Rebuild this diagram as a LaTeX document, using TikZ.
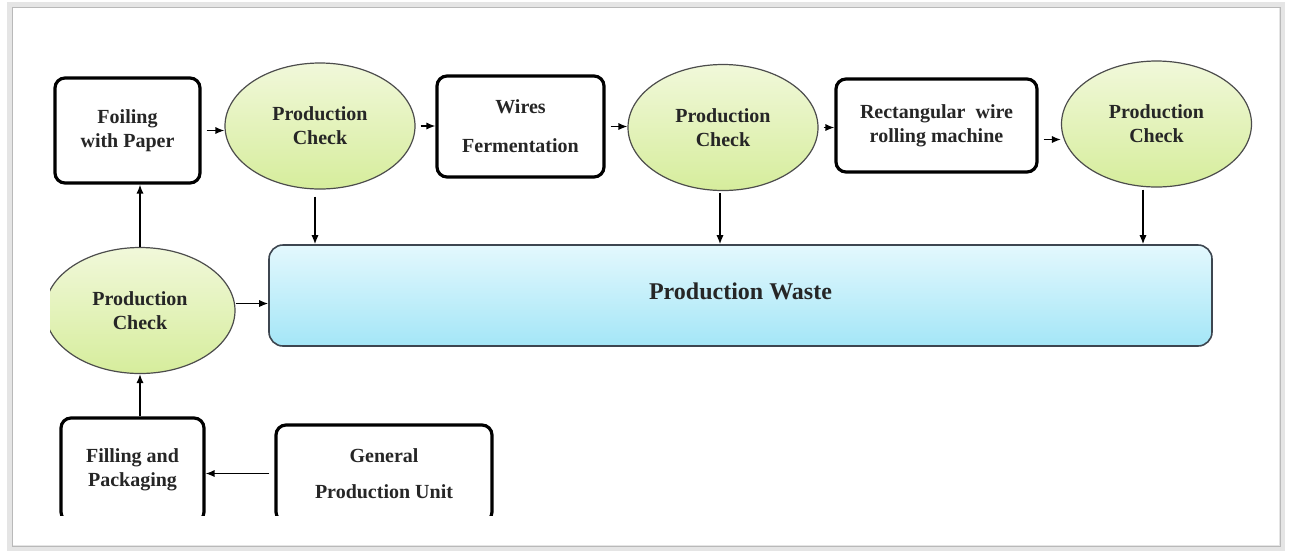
\documentclass[tikz,border=0pt]{standalone}
\usepackage{fontspec}
\setmainfont{Liberation Serif}
\usetikzlibrary{shapes.geometric,arrows.meta}
\definecolor{checktop}{HTML}{F1F8DA}
\definecolor{checkbot}{HTML}{D6ED9C}
\definecolor{wastetop}{HTML}{E3F8FD}
\definecolor{wastebot}{HTML}{A4E6F7}
\definecolor{wasteline}{HTML}{3D4650}

\begin{document}
\begin{tikzpicture}[x=0.5pt,y=-0.5pt,>={Latex[length=4.5pt,width=3.6pt]},font=\bfseries\fontsize{10}{12}\selectfont,text=black!85]
\tikzstyle{block} = [draw, rectangle, rounded corners=5pt, line width=1.6pt, fill=white, align=center, inner sep=0pt]
\tikzstyle{check} = [draw=black!70, ellipse, line width=0.6pt, top color=checktop, bottom color=checkbot, minimum width=95pt, minimum height=63pt, align=center, inner sep=0pt]
\tikzstyle{waste} = [draw=wasteline, rectangle, rounded corners=7pt, line width=0.8pt, top color=wastetop, bottom color=wastebot, minimum width=471.5pt, minimum height=50.5pt, font=\bfseries\fontsize{12}{14}\selectfont]
\tikzstyle{line} = [->, line width=0.7pt, shorten <=2.5pt]

\useasboundingbox (0,0) rectangle (1290,554);
% frame round the figure
\draw[gray!20, line width=3pt] (10,5) rectangle (1282,548);
\draw[gray!55, line width=0.5pt] (12,7) rectangle (1280,546);

\begin{scope}
\clip (50,15) rectangle (1275,515);

    % top row
    \node [block, minimum width=72.5pt, minimum height=52.5pt] (foil) at (127.5,130.5) {Foiling\\with Paper};
    \node [check] (checkA) at (320,126) {Production\\Check};
    \node [block, minimum width=83.5pt, minimum height=50.5pt] (wires) at (520.5,126.5) {Wires\\[7.5pt]Fermentation};
    \node [check] (checkB) at (723,127.5) {Production\\Check};
    \node [block, minimum width=100.5pt, minimum height=46.5pt] (rolling) at (936.5,125.5) {Rectangular~~wire\\rolling machine};
    \node [check] (checkC) at (1156.5,124) {Production\\Check};

    % middle and bottom
    \node [waste] (waste) at (740.5,295.5) {\raisebox{4pt}{Production Waste}};
    \node [check] (checkD) at (140,310.5) {Production\\Check};
    \node [block, minimum width=71.5pt, minimum height=52pt] (filling) at (132.5,470) {Filling and\\Packaging};
    \node [block, minimum width=108pt, minimum height=48.5pt] (general) at (384,473.5) {General\\[6pt]Production Unit};

    % connections
    \draw [line] (foil.east) -- (foil.east -| checkA.west);
    \draw [line] (checkA.east) -- (checkA.east -| wires.west);
    \draw [line] (wires.east) -- (wires.east -| checkB.west);
    \draw [line] (checkB.east) -- (checkB.east -| rolling.west);
    \draw [line] ([yshift=-7pt]rolling.east) -- ([yshift=-7pt]rolling.east -| checkC.west);
    \draw [line, shorten <=3.5pt] ([xshift=-2.5pt]checkA.south) -- ([xshift=-2.5pt]checkA.south |- waste.north);
    \draw [line, shorten <=1pt] ([xshift=-1.5pt]checkB.south) -- ([xshift=-1.5pt]checkB.south |- waste.north);
    \draw [line, shorten <=1pt] ([xshift=-6.75pt]checkC.south) -- ([xshift=-6.75pt]checkC.south |- waste.north);
    \draw [line, shorten <=0pt] (checkD.north) -- (checkD.north |- foil.south);
    \draw [line, shorten <=0pt] (checkD.south |- filling.north) -- (checkD.south);
    \draw [line, shorten <=0pt] ([yshift=3.5pt]checkD.east) -- ([yshift=3.5pt]checkD.east -| waste.west);
    \draw [line] (general.west) -- (general.west -| filling.east);
\end{scope}
\end{tikzpicture}
\end{document}
